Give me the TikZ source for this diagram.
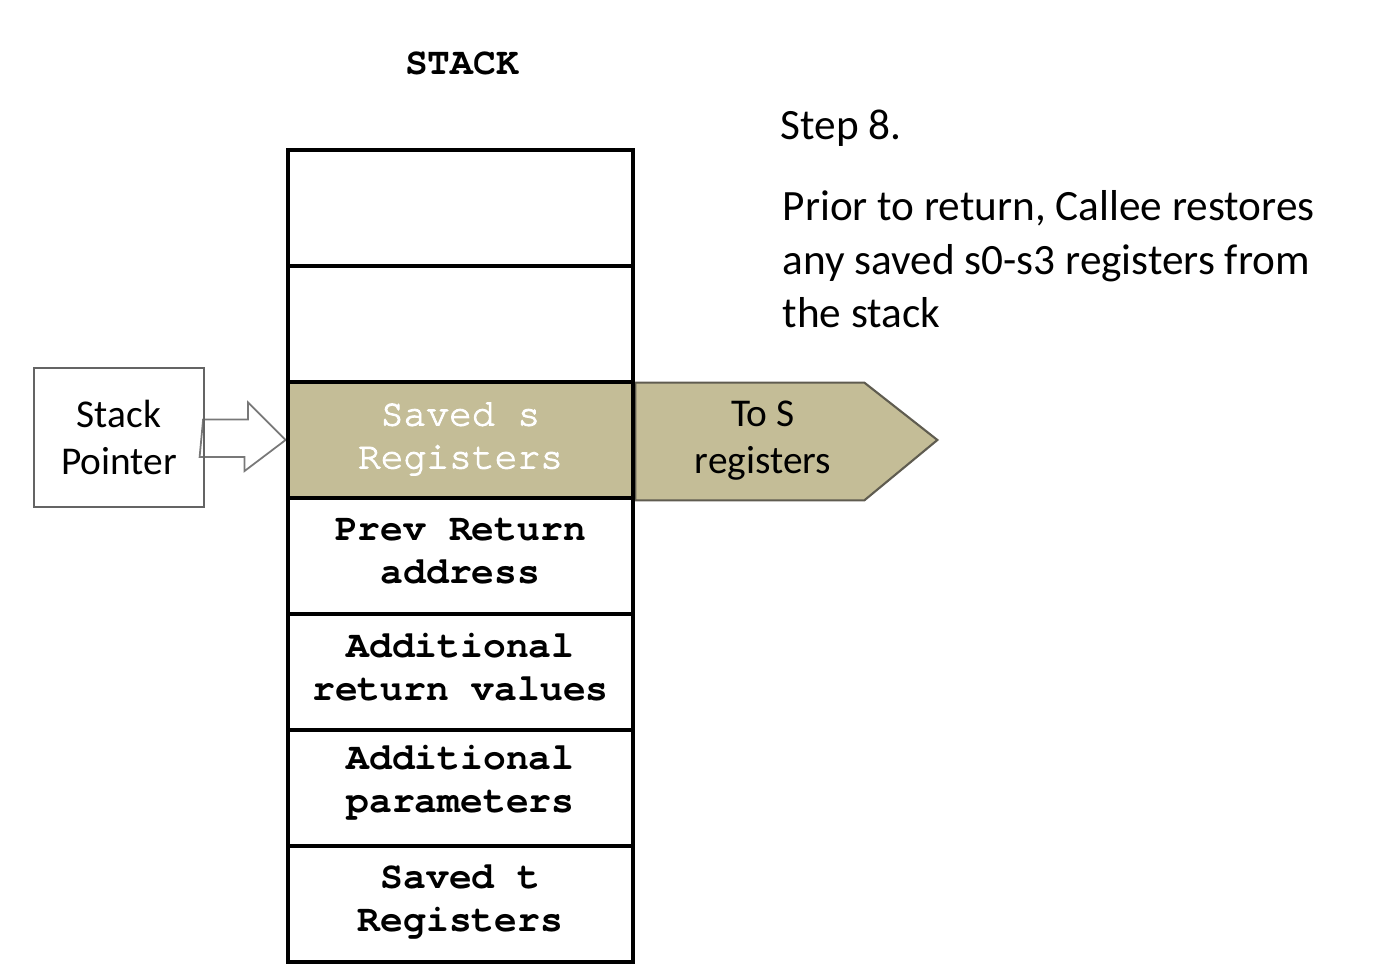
\documentclass[tikz,border=0pt]{standalone}
\usepackage{fontspec}
\usepackage{tikz}
\usetikzlibrary{calc}
\usetikzlibrary{backgrounds}
\newfontfamily\cellfont{TeX Gyre Cursor}
\newfontfamily\cellfontmed[FakeBold=2.5]{TeX Gyre Cursor}
\newfontfamily\notefont{Carlito}
\definecolor{tan}{RGB}{196,189,151}
\definecolor{tanedge}{RGB}{95,92,80}
\tikzset{stackcell/.style={shape=rectangle, draw=black, line width=1.3pt, minimum width=3.45cm, minimum height=1.16cm, inner sep=0pt}}
\tikzset{celltext/.style={align=center, yshift=0.05cm, font=\cellfont\bfseries\fontsize{10.8}{12.2}\selectfont}}
\tikzset{notetext/.style={inner sep=0pt, align=left, font=\notefont\fontsize{12.3}{15.2}\selectfont}}

\begin{document}
\begin{tikzpicture}[x=0.01cm, y=-0.01cm]
		\useasboundingbox (0,0) rectangle (1378,980);
		\node[font=\cellfont\bfseries\fontsize{10.8}{12.2}\selectfont] (title) at (462,63) {STACK};
		\node[style=stackcell] (free1) at (460.5,208) {};
		\node[style=stackcell] (free2) at (460.5,324) {};
		\node[style=stackcell, fill=tan, label={[celltext, yshift=-0.04cm, text=white, font=\cellfontmed\fontsize{10.8}{12.2}\selectfont]center:{Saved s\\Registers}}] (savs) at (460.5,440) {};
		\node[style=stackcell, label={[celltext]center:{Prev Return\\address}}] (prevra) at (460.5,556) {};
		\node[style=stackcell, label={[celltext]center:{Additional\\return values}}] (addret) at (460.5,672) {};
		\node[style=stackcell, label={[celltext]center:{Additional\\parameters}}] (addpar) at (460.5,788) {};
		\node[style=stackcell, label={[celltext, yshift=-0.03cm]center:{Saved t\\Registers}}] (savt) at (460.5,904) {};
		\node[shape=rectangle, draw={rgb,255:red,100;green,100;blue,100}, line width=0.6pt, minimum width=1.7cm, minimum height=1.39cm, align=center, font=\notefont\fontsize{11.2}{13.4}\selectfont] (sp) at (119,437.5) {Stack\\Pointer};
		\begin{pgfonlayer}{background}
			\draw[fill=white, draw={rgb,255:red,120;green,120;blue,120}, line width=0.5pt] ($(sp.east)+(-2,-18)$) -- ++(45,0) -- ++(0,-17) -- (savs.west) -- ++(-41,31) -- ++(0,-14) -- ++(-45,0) -- cycle;
			\draw[fill=tan, draw=tanedge, line width=0.6pt] ($(savs.north east)+(0,3)$) -- ++(229,0) -- ($(savs.east)+(302,0)$) -- ($(savs.south east)+(229,0)$) -- (savs.south east) -- cycle;
		\end{pgfonlayer}
		\node[align=center, font=\notefont\fontsize{11.2}{13.4}\selectfont] (tos) at (763,441) {To S\\registers};
		\node[notetext, anchor=base west] (step) at (780,140) {Step 8.};
		\node[notetext, anchor=north west] (note) at (782,190) {Prior to return, Callee restores\\any saved s0-s3 registers from\\the stack};
	\end{tikzpicture}
\end{document}
